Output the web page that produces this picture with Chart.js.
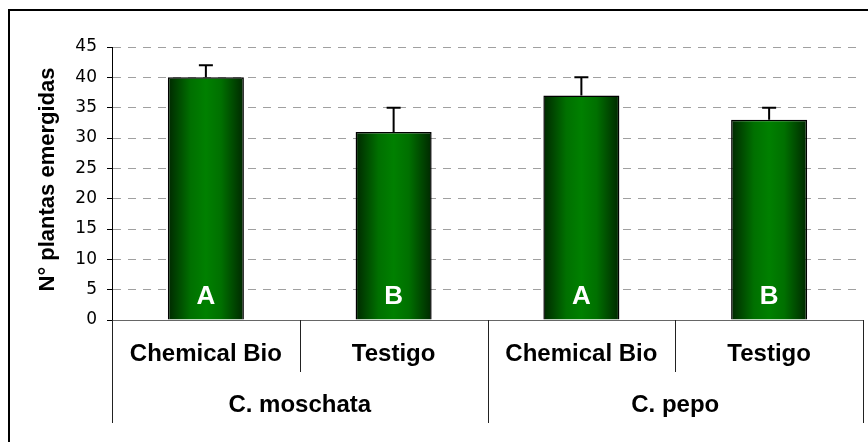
<!DOCTYPE html>
<html>
<head>
<meta charset="utf-8">
<script src="https://cdn.jsdelivr.net/npm/chart.js@4"></script>
<style>
  html, body { margin: 0; padding: 0; background: #fff; }
  #wrap { width: 868px; height: 442px; }
</style>
</head>
<body>
<div id="wrap"><canvas id="chart"></canvas></div>
<script>
// datos
var categories = ["Chemical Bio", "Testigo", "Chemical Bio", "Testigo"];
var groups = ["C. moschata", "C. pepo"];
var plantas = [40, 31, 37, 33];
var errores = [2, 4, 3, 2];
var letras = ["A", "B", "A", "B"];
var yTitle = "N° plantas emergidas";
var yMin = 0, yMax = 45, yStep = 5;

var BAR_PCT = 0.405;
var BOLD = "bold 24px 'Liberation Sans', Arial, sans-serif";

function barGradient(c) {
  var chart = c.chart;
  var xs = chart.scales.x;
  if (!chart.chartArea || !xs) return "#006400";
  var half = xs.width / categories.length * BAR_PCT / 2;
  var cx = xs.getPixelForValue(c.dataIndex);
  var g = chart.ctx.createLinearGradient(cx - half, 0, cx + half, 0);
  g.addColorStop(0, "#002800");
  g.addColorStop(0.3, "#007000");
  g.addColorStop(0.5, "#008000");
  g.addColorStop(0.7, "#007000");
  g.addColorStop(1, "#002800");
  return g;
}

var extras = {
  id: "extras",
  afterDatasetsDraw: function (chart) {
    var ctx = chart.ctx;
    var ys = chart.scales.y;
    var bars = chart.getDatasetMeta(0).data;
    ctx.save();
    // barras de error
    ctx.strokeStyle = "#000";
    ctx.lineWidth = 2;
    bars.forEach(function (b, i) {
      var top = ys.getPixelForValue(plantas[i] + errores[i]);
      ctx.beginPath();
      ctx.moveTo(b.x, b.y);
      ctx.lineTo(b.x, top);
      ctx.moveTo(b.x - 7, top);
      ctx.lineTo(b.x + 7, top);
      ctx.stroke();
    });
    // letras
    ctx.fillStyle = "#fff";
    ctx.font = "bold 26px 'Liberation Sans', Arial, sans-serif";
    ctx.textAlign = "center";
    ctx.textBaseline = "middle";
    bars.forEach(function (b, i) {
      ctx.fillText(letras[i], b.x, ys.getPixelForValue(0) - 23);
    });
    ctx.restore();
  },
  afterDraw: function (chart) {
    var ctx = chart.ctx;
    var xs = chart.scales.x;
    var ys = chart.scales.y;
    var area = chart.chartArea;
    var step = xs.width / categories.length;
    ctx.save();
    // separadores de categorias
    ctx.strokeStyle = "#222";
    ctx.lineWidth = 1;
    for (var i = 0; i <= categories.length; i++) {
      var x = Math.round(xs.left + i * step) + 0.5;
      ctx.beginPath();
      ctx.moveTo(x, area.bottom);
      ctx.lineTo(x, i % 2 === 0 ? 423 : 372);
      ctx.stroke();
    }
    // grupos
    ctx.fillStyle = "#000";
    ctx.font = BOLD;
    ctx.textAlign = "center";
    ctx.textBaseline = "middle";
    groups.forEach(function (g, j) {
      ctx.fillText(g, xs.left + (2 * j + 1) * step, 405);
    });
    // titulo del eje y
    ctx.save();
    ctx.translate(47.5, (ys.top + ys.bottom) / 2 - 4);
    ctx.rotate(-Math.PI / 2);
    ctx.font = "bold 22px 'Liberation Sans', Arial, sans-serif";
    ctx.fillText(yTitle, 0, 0);
    ctx.restore();
    // marco
    ctx.strokeStyle = "#000";
    ctx.lineWidth = 2;
    ctx.beginPath();
    ctx.moveTo(9, 442);
    ctx.lineTo(9, 10);
    ctx.lineTo(868, 10);
    ctx.stroke();
    ctx.restore();
  }
};

new Chart(document.getElementById("chart"), {
  type: "bar",
  data: {
    labels: categories,
    datasets: [{
      data: plantas,
      backgroundColor: barGradient,
      borderColor: "#000",
      borderWidth: 1.5,
      barPercentage: BAR_PCT,
      categoryPercentage: 1
    }]
  },
  options: {
    responsive: true,
    maintainAspectRatio: false,
    animation: false,
    layout: { padding: { top: 47, right: 5, left: 0, bottom: 0 } },
    plugins: { legend: { display: false }, tooltip: { enabled: false } },
    scales: {
      x: {
        grid: { display: false, drawTicks: false },
        border: { color: "#666", width: 1 },
        ticks: {
          color: "#000",
          padding: 22,
          maxRotation: 0,
          autoSkip: false,
          font: { family: "'Liberation Sans', Arial, sans-serif", size: 24, weight: "bold", lineHeight: 1 }
        },
        afterFit: function (s) { s.height = 122; }
      },
      y: {
        min: yMin,
        max: yMax,
        ticks: {
          stepSize: yStep,
          color: "#000",
          padding: 10,
          font: { family: "'DejaVu Sans', Verdana, sans-serif", size: 17, lineHeight: 1 }
        },
        grid: { color: "#a0a0a0", tickColor: "#000", tickLength: 5, lineWidth: 1 },
        border: { color: "#000", width: 1, dash: [8, 7] },
        afterFit: function (s) { s.width = 112; }
      }
    }
  },
  plugins: [extras]
});
</script>
</body>
</html>
